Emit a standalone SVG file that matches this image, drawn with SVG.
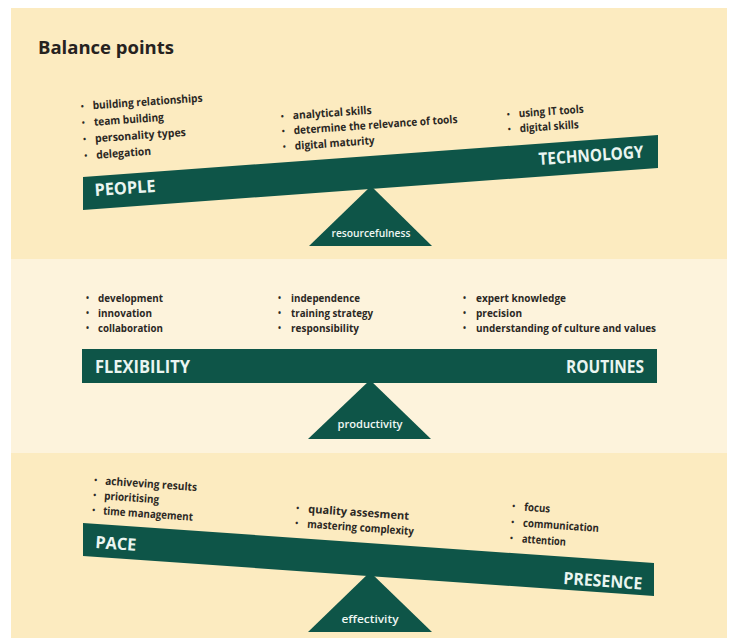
<svg xmlns="http://www.w3.org/2000/svg" width="734" height="638" viewBox="0 0 734 638">
  <style>
    .band { fill: #fcebc0; }
    .band-light { fill: #fdf3dc; }
    .beam { fill: #0e5548; }
    .pivot { fill: #0e5548; }
    .title { font-family: "Open Sans", "Noto Sans", "Liberation Sans", sans-serif; font-weight: 700; font-size: 18px; fill: #26221f; }
    .item { font-family: "Open Sans", "Noto Sans", "Liberation Sans", sans-serif; font-weight: 700; font-size: 11px; fill: #2b2824; }
    .dot { font-family: "Open Sans", "Noto Sans", "Liberation Sans", sans-serif; font-weight: 700; font-size: 8px; fill: #2b2824; }
    .side { font-family: "Open Sans", "Noto Sans", "Liberation Sans", sans-serif; font-weight: 700; font-size: 17px; fill: #eaf5f1; }
    .pivot-label { font-family: "Open Sans", "Noto Sans", "Liberation Sans", sans-serif; font-weight: 600; font-size: 10px; fill: #eef7f3; text-anchor: middle; }
  </style>

  <rect x="0" y="0" width="734" height="638" fill="#ffffff"/>

  <!-- background bands -->
  <g id="bands">
    <rect class="band" x="11" y="8" width="716" height="251"/>
    <rect class="band-light" x="11" y="259" width="716" height="194"/>
    <rect class="band" x="11" y="453" width="716" height="185"/>
  </g>

  <g id="title">
    <text class="title" x="38" y="54" textLength="136" lengthAdjust="spacingAndGlyphs">Balance points</text>
  </g>

  <!-- scale 1: people / technology -->
  <g id="scale-resourcefulness">
    <polygon class="pivot" points="371,186 309,246 432,246"/>
    <text class="pivot-label" x="371" y="237" textLength="79" lengthAdjust="spacingAndGlyphs">resourcefulness</text>
    <polygon class="beam" points="83,177 658,135 658,168 83,210"/>
    <text class="side" x="95" y="196" transform="rotate(-4 95 196)" textLength="61" lengthAdjust="spacingAndGlyphs">PEOPLE</text>
    <text class="side" x="539" y="165" transform="rotate(-4 539 165)" textLength="105" lengthAdjust="spacingAndGlyphs">TECHNOLOGY</text>
  </g>

  <g id="list-people" transform="rotate(-4 83 110)">
    <text class="dot" x="81" y="109">•</text>
    <text class="item" x="93" y="110" textLength="110" lengthAdjust="spacingAndGlyphs">building relationships</text>
    <text class="dot" x="81" y="125.5">•</text>
    <text class="item" x="93" y="126.5" textLength="70" lengthAdjust="spacingAndGlyphs">team building</text>
    <text class="dot" x="81" y="142">•</text>
    <text class="item" x="93" y="143" textLength="91" lengthAdjust="spacingAndGlyphs">personality types</text>
    <text class="dot" x="81" y="158.5">•</text>
    <text class="item" x="93" y="159.5" textLength="55" lengthAdjust="spacingAndGlyphs">delegation</text>
  </g>

  <g id="list-tools" transform="rotate(-4 283 120)">
    <text class="dot" x="281" y="119">•</text>
    <text class="item" x="293" y="120" textLength="79" lengthAdjust="spacingAndGlyphs">analytical skills</text>
    <text class="dot" x="281" y="134">•</text>
    <text class="item" x="293" y="135" textLength="164" lengthAdjust="spacingAndGlyphs">determine the relevance of tools</text>
    <text class="dot" x="281" y="149.5">•</text>
    <text class="item" x="293" y="150.5" textLength="80" lengthAdjust="spacingAndGlyphs">digital maturity</text>
  </g>

  <g id="list-technology" transform="rotate(-4 509 118)">
    <text class="dot" x="507" y="117">•</text>
    <text class="item" x="519" y="118" textLength="65" lengthAdjust="spacingAndGlyphs">using IT tools</text>
    <text class="dot" x="507" y="132">•</text>
    <text class="item" x="519" y="133" textLength="59" lengthAdjust="spacingAndGlyphs">digital skills</text>
  </g>

  <!-- scale 2: flexibility / routines -->
  <g id="scale-productivity">
    <polygon class="pivot" points="370,380 308,439 431,439"/>
    <text class="pivot-label" x="370" y="428" textLength="65" lengthAdjust="spacingAndGlyphs">productivity</text>
    <rect class="beam" x="82" y="349" width="575" height="34"/>
    <text class="side" x="95" y="373" textLength="95" lengthAdjust="spacingAndGlyphs">FLEXIBILITY</text>
    <text class="side" x="566" y="373" textLength="78" lengthAdjust="spacingAndGlyphs">ROUTINES</text>
  </g>

  <g id="list-flexibility">
    <text class="dot" x="86" y="301">•</text>
    <text class="item" x="98" y="302" textLength="65" lengthAdjust="spacingAndGlyphs">development</text>
    <text class="dot" x="86" y="316">•</text>
    <text class="item" x="98" y="317" textLength="54" lengthAdjust="spacingAndGlyphs">innovation</text>
    <text class="dot" x="86" y="331">•</text>
    <text class="item" x="98" y="332" textLength="65" lengthAdjust="spacingAndGlyphs">collaboration</text>
  </g>

  <g id="list-independence">
    <text class="dot" x="278" y="301">•</text>
    <text class="item" x="291" y="302" textLength="69" lengthAdjust="spacingAndGlyphs">independence</text>
    <text class="dot" x="278" y="316">•</text>
    <text class="item" x="291" y="317" textLength="82" lengthAdjust="spacingAndGlyphs">training strategy</text>
    <text class="dot" x="278" y="331">•</text>
    <text class="item" x="291" y="332" textLength="68" lengthAdjust="spacingAndGlyphs">responsibility</text>
  </g>

  <g id="list-routines">
    <text class="dot" x="463" y="301">•</text>
    <text class="item" x="476" y="302" textLength="90" lengthAdjust="spacingAndGlyphs">expert knowledge</text>
    <text class="dot" x="463" y="316">•</text>
    <text class="item" x="476" y="317" textLength="46" lengthAdjust="spacingAndGlyphs">precision</text>
    <text class="dot" x="463" y="331">•</text>
    <text class="item" x="476" y="332" textLength="180" lengthAdjust="spacingAndGlyphs">understanding of culture and values</text>
  </g>

  <!-- scale 3: pace / presence -->
  <g id="scale-effectivity">
    <polygon class="pivot" points="370,572 308,632 432,632"/>
    <text class="pivot-label" x="370" y="623" textLength="57" lengthAdjust="spacingAndGlyphs">effectivity</text>
    <polygon class="beam" points="83,523 654,563 654,596 83,556"/>
    <text class="side" x="95" y="548" transform="rotate(4 95 548)" textLength="41" lengthAdjust="spacingAndGlyphs">PACE</text>
    <text class="side" x="563" y="584" transform="rotate(4 563 584)" textLength="79" lengthAdjust="spacingAndGlyphs">PRESENCE</text>
  </g>

  <g id="list-pace" transform="rotate(4 96 484)">
    <text class="dot" x="94" y="483">•</text>
    <text class="item" x="105" y="484" textLength="92" lengthAdjust="spacingAndGlyphs">achiveving results</text>
    <text class="dot" x="94" y="498">•</text>
    <text class="item" x="105" y="499" textLength="55" lengthAdjust="spacingAndGlyphs">prioritising</text>
    <text class="dot" x="94" y="513">•</text>
    <text class="item" x="105" y="514" textLength="90" lengthAdjust="spacingAndGlyphs">time management</text>
  </g>

  <g id="list-quality" transform="rotate(4 298 512)">
    <text class="dot" x="296" y="511">•</text>
    <text class="item" x="308" y="512" textLength="101" lengthAdjust="spacingAndGlyphs">quality assesment</text>
    <text class="dot" x="296" y="526">•</text>
    <text class="item" x="308" y="527" textLength="107" lengthAdjust="spacingAndGlyphs">mastering complexity</text>
  </g>

  <g id="list-presence" transform="rotate(4 514 510)">
    <text class="dot" x="512" y="509">•</text>
    <text class="item" x="524" y="510" textLength="26" lengthAdjust="spacingAndGlyphs">focus</text>
    <text class="dot" x="512" y="525">•</text>
    <text class="item" x="524" y="526" textLength="76" lengthAdjust="spacingAndGlyphs">communication</text>
    <text class="dot" x="512" y="541">•</text>
    <text class="item" x="524" y="542" textLength="44" lengthAdjust="spacingAndGlyphs">attention</text>
  </g>
</svg>
